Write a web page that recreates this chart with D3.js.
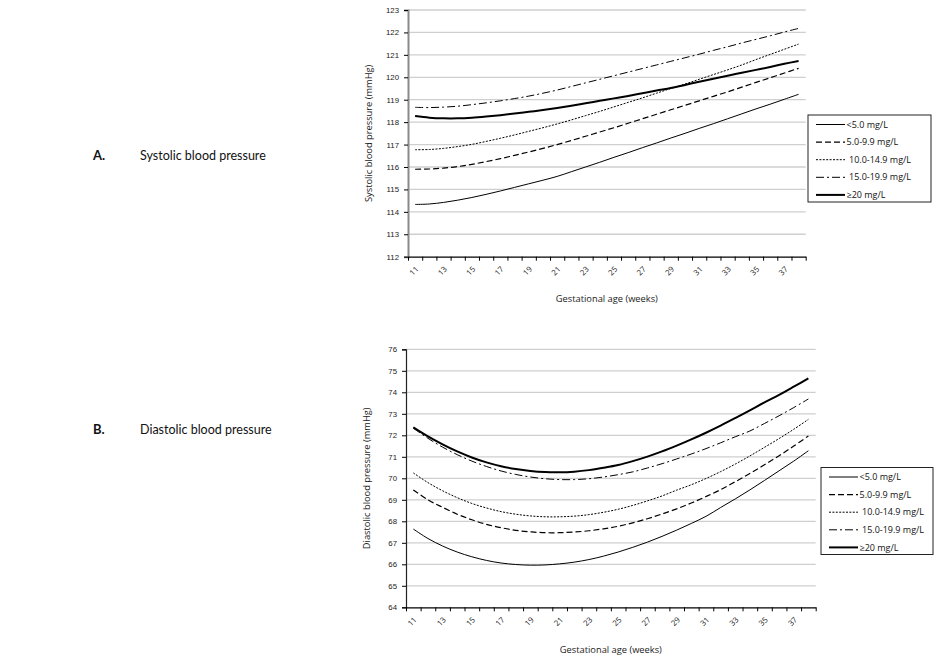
<!DOCTYPE html>
<html lang="en">
<head>
    <meta charset="UTF-8">
    <title>Blood pressure by CRP level</title>
    <script src="https://cdn.jsdelivr.net/npm/d3@7/dist/d3.min.js"></script>
    <style>
        body { margin: 0; background: #fff; }
        svg { font-family: "Open Sans", "Noto Sans", sans-serif; }
        .tick text { fill: #222; }
    </style>
</head>
<body>
<svg width="934" height="657" id="chart"></svg>
<script>
// gestational age categories (weeks)
const weeks = d3.range(11, 39);
const weekLabels = [11, 13, 15, 17, 19, 21, 23, 25, 27, 29, 31, 33, 35, 37];
const groups = ["<5.0 mg/L", "5.0-9.9 mg/L", "10.0-14.9 mg/L", "15.0-19.9 mg/L", "\u226520 mg/L"];

// systolic blood pressure (mmHg), one value per week 11..38
const sysLt5 = [114.33, 114.35, 114.42, 114.52, 114.64, 114.78, 114.93, 115.09, 115.25, 115.41,
    115.58, 115.79, 116.0, 116.21, 116.43, 116.64, 116.86, 117.07, 117.29, 117.5,
    117.72, 117.93, 118.15, 118.37, 118.59, 118.8, 119.02, 119.24];
const sys5to10 = [115.9, 115.91, 115.95, 116.02, 116.12, 116.24, 116.37, 116.52, 116.67, 116.83,
    117.0, 117.18, 117.37, 117.56, 117.75, 117.95, 118.15, 118.35, 118.55, 118.75,
    118.95, 119.15, 119.35, 119.56, 119.77, 119.98, 120.19, 120.4];
const sys10to15 = [116.77, 116.78, 116.83, 116.91, 117.01, 117.14, 117.28, 117.43, 117.59, 117.75,
    117.92, 118.1, 118.29, 118.48, 118.68, 118.88, 119.08, 119.29, 119.5, 119.7,
    119.91, 120.12, 120.33, 120.55, 120.79, 121.02, 121.25, 121.48];
const sys15to20 = [118.66, 118.65, 118.67, 118.71, 118.78, 118.86, 118.95, 119.05, 119.16, 119.29,
    119.43, 119.59, 119.75, 119.91, 120.07, 120.23, 120.39, 120.55, 120.71, 120.87,
    121.03, 121.2, 121.36, 121.53, 121.69, 121.85, 122.02, 122.18];
const sysGe20 = [118.27, 118.2, 118.17, 118.17, 118.2, 118.25, 118.31, 118.38, 118.46, 118.54,
    118.63, 118.73, 118.84, 118.95, 119.06, 119.17, 119.29, 119.41, 119.52, 119.66,
    119.8, 119.93, 120.07, 120.2, 120.33, 120.46, 120.6, 120.73];

// diastolic blood pressure (mmHg)
const diaLt5 = [67.64, 67.2, 66.85, 66.57, 66.35, 66.18, 66.06, 65.99, 65.96, 65.97,
    66.02, 66.1, 66.22, 66.38, 66.57, 66.79, 67.03, 67.3, 67.59, 67.9,
    68.23, 68.64, 69.04, 69.46, 69.9, 70.35, 70.8, 71.28];
const dia5to10 = [69.46, 69.0, 68.65, 68.33, 68.07, 67.86, 67.7, 67.58, 67.51, 67.47,
    67.47, 67.5, 67.56, 67.65, 67.77, 67.93, 68.12, 68.34, 68.58, 68.85,
    69.15, 69.47, 69.84, 70.22, 70.63, 71.05, 71.5, 71.97];
const dia10to15 = [70.25, 69.8, 69.42, 69.1, 68.83, 68.62, 68.45, 68.33, 68.25, 68.21,
    68.21, 68.24, 68.31, 68.42, 68.56, 68.74, 68.95, 69.18, 69.45, 69.7,
    69.99, 70.31, 70.66, 71.04, 71.44, 71.85, 72.28, 72.74];
const dia15to20 = [72.33, 71.86, 71.45, 71.1, 70.8, 70.55, 70.34, 70.18, 70.06, 69.98,
    69.94, 69.94, 69.98, 70.06, 70.17, 70.3, 70.48, 70.68, 70.9, 71.13,
    71.38, 71.65, 71.93, 72.2, 72.55, 72.91, 73.29, 73.69];
const diaGe20 = [72.37, 71.95, 71.58, 71.25, 70.97, 70.74, 70.56, 70.43, 70.34, 70.29,
    70.28, 70.31, 70.38, 70.49, 70.62, 70.8, 71.01, 71.25, 71.52, 71.81,
    72.12, 72.45, 72.8, 73.16, 73.53, 73.88, 74.26, 74.65];

const styles = [
    { width: 1, dash: null },
    { width: 1.2, dash: "6,3" },
    { width: 1, dash: "2,1.4" },
    { width: 1, dash: "8,3,2,3" },
    { width: 2, dash: null }
];

const svg = d3.select('#chart');

function drawChart(cfg) {
    const g = svg.append('g');
    const x = d3.scaleBand().domain(weeks).range([cfg.left, cfg.right]).padding(0);
    const xEdge = d3.scaleLinear().domain([0, weeks.length]).range([cfg.left, cfg.right]);
    const y = d3.scaleLinear().domain(cfg.yDomain).range([cfg.bottom, cfg.top]);
    const yTicks = d3.range(cfg.yDomain[0], cfg.yDomain[1] + 1);

    // gridlines
    g.selectAll('line.grid')
        .data(yTicks.slice(1))
        .enter()
        .append('line')
        .attr('class', 'grid')
        .attr('x1', cfg.left)
        .attr('x2', cfg.right)
        .attr('y1', d => y(d))
        .attr('y2', d => y(d))
        .attr('stroke', '#cfcfcf')
        .attr('stroke-width', 1.3);

    // y axis
    const yAxis = g.append('g')
        .attr('transform', 'translate(' + cfg.left + ',0)')
        .call(d3.axisLeft(y).tickValues(yTicks).tickSize(4).tickPadding(5));
    yAxis.select('.domain').attr('stroke', cfg.yAxisColor).attr('stroke-width', cfg.yAxisWidth);
    yAxis.selectAll('.tick line').attr('stroke', '#000');
    yAxis.selectAll('text').attr('font-size', 7.8);

    // x axis: ticks between categories, labels on every other category
    const xAxis = g.append('g')
        .attr('transform', 'translate(0,' + cfg.bottom + ')')
        .call(d3.axisBottom(xEdge).tickValues(d3.range(weeks.length + 1)).tickFormat('').tickSize(4).tickSizeOuter(0));
    xAxis.select('.domain').attr('stroke', '#000').attr('stroke-width', 1.2);
    xAxis.selectAll('.tick line').attr('stroke', '#000');

    g.selectAll('text.xlab')
        .data(weekLabels)
        .enter()
        .append('text')
        .attr('class', 'xlab')
        .attr('font-size', 7.8)
        .attr('fill', '#222')
        .attr('text-anchor', 'end')
        .attr('dy', '0.35em')
        .attr('transform', d => 'translate(' + (x(d) + x.bandwidth() / 2 + 2) + ',' + (cfg.bottom + 11) + ') rotate(-45)')
        .text(d => d);

    // axis titles
    g.append('text')
        .attr('font-size', 9.3)
        .attr('fill', '#222')
        .attr('text-anchor', 'middle')
        .attr('transform', 'translate(' + cfg.yTitleX + ',' + ((cfg.top + cfg.bottom) / 2) + ') rotate(-90)')
        .text(cfg.yTitle);
    g.append('text')
        .attr('font-size', 9.3)
        .attr('fill', '#222')
        .attr('text-anchor', 'middle')
        .attr('x', (cfg.left + cfg.right) / 2)
        .attr('y', cfg.xTitleY)
        .text('Gestational age (weeks)');

    // series lines
    const line = d3.line()
        .x((d, i) => x(weeks[i]) + x.bandwidth() / 2)
        .y(d => y(d))
        .curve(d3.curveCatmullRom);
    g.selectAll('path.series')
        .data(cfg.series)
        .enter()
        .append('path')
        .attr('class', 'series')
        .attr('fill', 'none')
        .attr('stroke', '#000')
        .attr('stroke-width', (d, i) => styles[i].width)
        .attr('stroke-dasharray', (d, i) => styles[i].dash)
        .attr('d', d => line(d));

    // legend
    const lg = cfg.legend;
    g.append('rect')
        .attr('x', lg.x)
        .attr('y', lg.y)
        .attr('width', lg.w)
        .attr('height', lg.h)
        .attr('fill', '#fff')
        .attr('stroke', '#222')
        .attr('stroke-width', 1);
    const items = g.selectAll('g.leg')
        .data(groups)
        .enter()
        .append('g')
        .attr('class', 'leg')
        .attr('transform', (d, i) => 'translate(' + lg.x + ',' + (lg.y + 9.5 + i * 17.6) + ')');
    items.append('line')
        .attr('x1', 8)
        .attr('x2', 37)
        .attr('stroke', '#000')
        .attr('stroke-width', (d, i) => styles[i].width)
        .attr('stroke-dasharray', (d, i) => styles[i].dash);
    items.append('text')
        .attr('x', (d, i) => i == 2 || i == 3 ? 41 : 38.5)
        .attr('dy', '0.35em')
        .attr('font-size', 9)
        .attr('fill', '#111')
        .text(d => d);
}

drawChart({
    left: 408, right: 805.7, top: 10, bottom: 256.7,
    yDomain: [112, 123],
    yAxisColor: '#8a8a8a', yAxisWidth: 2,
    yTitle: 'Systolic blood pressure (mmHg)', yTitleX: 372, xTitleY: 302,
    series: [sysLt5, sys5to10, sys10to15, sys15to20, sysGe20],
    legend: { x: 808, y: 115, w: 123, h: 87 }
});

drawChart({
    left: 406, right: 815.7, top: 349.3, bottom: 607.3,
    yDomain: [64, 76],
    yAxisColor: '#222', yAxisWidth: 1.2,
    yTitle: 'Diastolic blood pressure (mmHg)', yTitleX: 370, xTitleY: 653,
    series: [diaLt5, dia5to10, dia10to15, dia15to20, diaGe20],
    legend: { x: 821, y: 467.5, w: 112, h: 87 }
});

// panel labels
const panels = [
    { key: 'A.', name: 'Systolic blood pressure', y: 160 },
    { key: 'B.', name: 'Diastolic blood pressure', y: 434 }
];
const pl = svg.selectAll('g.panel')
    .data(panels)
    .enter()
    .append('g')
    .attr('class', 'panel')
    .attr('font-family', 'Lato, "Open Sans", sans-serif')
    .attr('transform', d => 'translate(93,' + d.y + ')');
pl.append('text')
    .attr('font-size', 13)
    .attr('font-weight', 'bold')
    .attr('fill', '#111')
    .text(d => d.key);
pl.append('text')
    .attr('x', 47)
    .attr('font-size', 12.5)
    .attr('fill', '#111')
    .text(d => d.name);
</script>
</body>
</html>
